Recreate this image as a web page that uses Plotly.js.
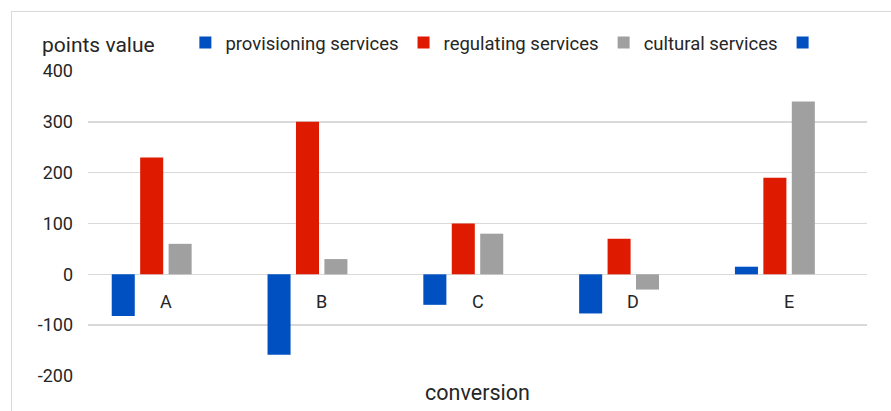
<!DOCTYPE html>
<html>
<head>
<meta charset="utf-8">
<script src="https://cdn.plot.ly/plotly-3.0.1.min.js"></script>
<style>
  html, body { margin: 0; padding: 0; background: #ffffff; overflow: hidden; }
  #wrap { position: relative; width: 891px; height: 411px; }
  #chart { position: absolute; left: 0; top: 0; width: 891px; height: 411px; }
  #frame { position: absolute; left: 11px; top: 11px; width: 900px; height: 420px;
           border: 1px solid #d9d9d9; pointer-events: none; }
</style>
</head>
<body>
<div id="wrap">
  <div id="chart"></div>
  <div id="frame"></div>
</div>
<script>
// Categories of land-use conversion
const categories = ['A', 'B', 'C', 'D', 'E'];

// Ecosystem service points per conversion
const provisioning = [-82, -158, -60, -77, 15];
const regulating   = [230, 300, 100, 70, 190];
const cultural     = [60, 30, 80, -30, 340];
const unnamedSeries = [null, null, null, null, null];

const seriesNames = ['provisioning services', 'regulating services', 'cultural services', ''];
const yTicks = [-200, -100, 0, 100, 200, 300, 400];
const yTitle = 'points value';
const xTitle = 'conversion';

const colors = ['#0050C2', '#DE1A00', '#A0A0A0', '#0050C2'];
const fontFamily = 'Roboto, "Open Sans", sans-serif';
const textColor = '#262626';

const seriesValues = [provisioning, regulating, cultural, unnamedSeries];

const traces = seriesValues.map((vals, i) => ({
  type: 'bar',
  x: categories,
  y: vals,
  name: seriesNames[i],
  marker: { color: colors[i], line: { width: 0 } },
  hoverinfo: 'x+y+name'
}));

// Category labels sit just under the zero line
const catLabels = categories.map(c => ({
  x: c, y: 0, xref: 'x', yref: 'y',
  text: c, showarrow: false,
  yanchor: 'top', yshift: -15,
  font: { family: fontFamily, size: 18, color: textColor }
}));

const layout = {
  width: 891,
  height: 411,
  margin: { l: 88, r: 24, t: 71, b: 35 },
  paper_bgcolor: '#ffffff',
  plot_bgcolor: '#ffffff',
  font: { family: fontFamily, color: textColor },
  barmode: 'group',
  bargap: 0.27,
  bargroupgap: 0.19,
  showlegend: true,
  legend: {
    orientation: 'h',
    x: 0.125, xanchor: 'left',
    y: 1.092, yanchor: 'middle',
    font: { family: fontFamily, size: 18.5, color: textColor },
    itemclick: false
  },
  xaxis: {
    type: 'category',
    showticklabels: false,
    showgrid: false,
    showline: false,
    zeroline: false,
    ticks: '',
    title: { text: xTitle, standoff: 8, font: { family: fontFamily, size: 21.5, color: textColor } }
  },
  yaxis: {
    range: [-200, 400],
    tickvals: yTicks,
    ticktext: yTicks.map(String),
    ticks: '',
    ticklabelstandoff: 14,
    showgrid: true,
    gridcolor: '#d9d9d9',
    gridwidth: 1.5,
    zeroline: true,
    zerolinecolor: '#d9d9d9',
    zerolinewidth: 1.5,
    showline: false,
    tickfont: { family: fontFamily, size: 18, color: textColor }
  },
  annotations: [
    {
      x: 0.013, y: 1.085, xref: 'paper', yref: 'paper',
      text: yTitle, showarrow: false,
      xanchor: 'center', yanchor: 'middle',
      font: { family: fontFamily, size: 21, color: textColor }
    }
  ].concat(catLabels)
};

Plotly.newPlot('chart', traces, layout, { displayModeBar: false, staticPlot: true });
</script>
</body>
</html>
